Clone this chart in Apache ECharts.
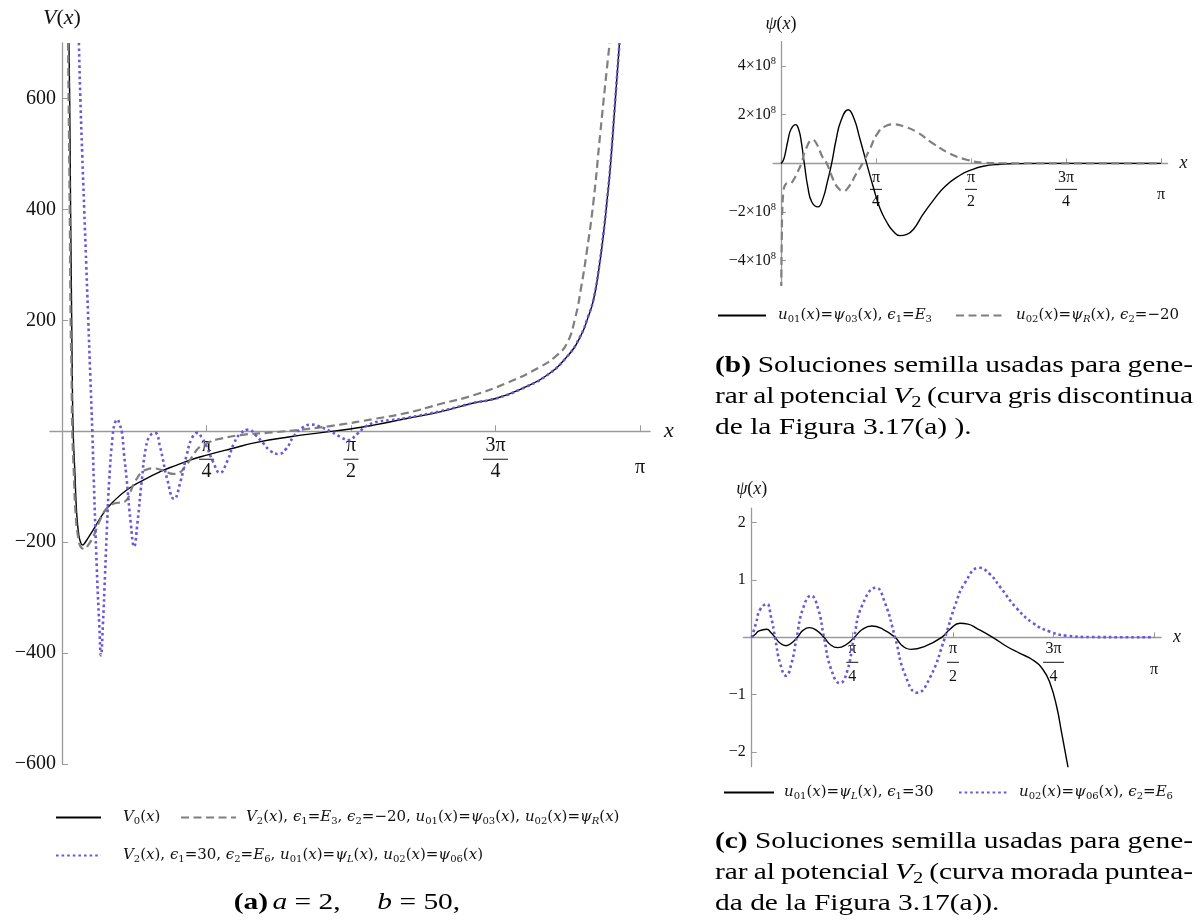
<!DOCTYPE html>
<html>
<head>
<meta charset="utf-8">
<script src="https://cdn.jsdelivr.net/npm/echarts@6/dist/echarts.min.js"></script>
<style>
html, body { margin: 0; padding: 0; background: #fff; }
#chart { width: 1197px; height: 922px; }
</style>
</head>
<body>
<div id="chart"></div>
<script>
const PI = Math.PI;

// ---- (a) potentials V(x): [x, V] ----
const v0Curve = [[0.038,700],[0.042,600],[0.047,400],[0.053,200],[0.056,100],[0.061,0],[0.071,-80],[0.080,-148],[0.092,-188],[0.103,-202],[0.113,-205],[0.125,-201],[0.147,-190],[0.170,-178],[0.225,-148],[0.279,-127],[0.352,-106],[0.442,-88],[0.533,-73],[0.624,-61],[0.714,-50],[0.787,-43],[0.914,-32],[1.059,-20],[1.240,-10],[1.421,-2],[1.566,4],[1.693,11],[1.874,23],[2.055,35],[2.237,51],[2.358,59],[2.508,78],[2.636,101],[2.744,134],[2.817,170],[2.862,208],[2.889,237],[2.915,285],[2.943,355],[2.964,420],[2.980,475],[3.007,595],[3.030,700]];

const v2DashedCurve = [[0.033,700],[0.036,600],[0.042,400],[0.047,200],[0.052,100],[0.056,0],[0.065,-80],[0.074,-148],[0.090,-195],[0.106,-210],[0.125,-212],[0.141,-206],[0.170,-190],[0.207,-160],[0.243,-139],[0.279,-131],[0.305,-129],[0.333,-128],[0.361,-119],[0.383,-100],[0.406,-86],[0.433,-74],[0.461,-69],[0.495,-67],[0.533,-69],[0.571,-74],[0.605,-77],[0.636,-75],[0.669,-64],[0.696,-52],[0.723,-38],[0.750,-28],[0.805,-19],[0.841,-15],[0.968,-7],[1.149,-2],[1.331,4],[1.512,12],[1.693,22],[1.874,33],[2.055,49],[2.237,65],[2.418,87],[2.599,116],[2.686,136],[2.744,158],[2.790,205],[2.822,260],[2.853,325],[2.889,415],[2.925,535],[2.962,655],[2.977,700]];

const v2DottedCurve = [[0.092,700],[0.100,600],[0.110,500],[0.121,400],[0.132,300],[0.143,200],[0.154,100],[0.165,0],[0.173,-88],[0.189,-244],[0.203,-350],[0.212,-404],[0.223,-345],[0.234,-260],[0.245,-170],[0.257,-88],[0.275,-10],[0.288,15],[0.301,21],[0.313,12],[0.325,0],[0.337,-40],[0.352,-88],[0.374,-166],[0.392,-208],[0.410,-166],[0.434,-88],[0.457,-28],[0.479,-8],[0.506,-3],[0.533,-28],[0.573,-88],[0.609,-122],[0.646,-88],[0.678,-43],[0.707,-12],[0.736,-3],[0.761,-12],[0.787,-28],[0.821,-55],[0.859,-75],[0.897,-55],[0.935,-22],[0.968,-5],[1.013,3],[1.055,-8],[1.095,-22],[1.131,-35],[1.176,-41],[1.218,-32],[1.258,-10],[1.305,6],[1.358,12],[1.403,8],[1.457,0],[1.512,-10],[1.557,-16],[1.604,-5],[1.648,8],[1.684,14],[1.729,18],[1.784,20],[1.874,24],[2.055,36],[2.237,51],[2.358,59],[2.508,78],[2.636,101],[2.744,134],[2.817,171],[2.862,209],[2.889,238],[2.915,287],[2.943,357],[2.964,422],[2.980,477],[3.007,597],[3.030,700]];

// ---- (b) seed solutions: [x, psi] ----
const psi03Curve = [[0,0],[0.017,0.10e8],[0.033,0.35e8],[0.058,0.95e8],[0.083,1.40e8],[0.122,1.59e8],[0.149,1.35e8],[0.169,0.85e8],[0.193,0],[0.223,-1.0e8],[0.256,-1.6e8],[0.306,-1.79e8],[0.347,-1.45e8],[0.384,-0.75e8],[0.419,0],[0.455,0.95e8],[0.496,1.75e8],[0.556,2.2e8],[0.603,1.85e8],[0.653,1.0e8],[0.708,0],[0.763,-0.97e8],[0.818,-1.85e8],[0.873,-2.4e8],[0.926,-2.78e8],[0.983,-2.97e8],[1.041,-2.92e8],[1.094,-2.72e8],[1.174,-2.1e8],[1.259,-1.52e8],[1.356,-0.95e8],[1.480,-0.49e8],[1.563,-0.29e8],[1.672,-0.12e8],[1.811,-0.04e8],[1.976,-0.01e8],[2.307,0],[PI,0]];

const psiRCurve = [[0.002,-5.2e8],[0.007,-3.0e8],[0.012,-1.8e8],[0.021,-1.15e8],[0.033,-0.9e8],[0.054,-0.82e8],[0.074,-0.83e8],[0.099,-0.72e8],[0.128,-0.45e8],[0.169,0],[0.207,0.6e8],[0.262,0.97e8],[0.306,0.7e8],[0.339,0.3e8],[0.378,0],[0.422,-0.55e8],[0.463,-0.95e8],[0.515,-1.14e8],[0.562,-0.95e8],[0.620,-0.45e8],[0.680,0.05e8],[0.736,0.6e8],[0.794,1.2e8],[0.860,1.52e8],[0.934,1.6e8],[1.025,1.5e8],[1.122,1.29e8],[1.259,0.81e8],[1.397,0.4e8],[1.535,0.15e8],[1.672,0.03e8],[1.811,0.005e8],[PI,0]];

// ---- (c) seed solutions: [x, psi] ----
const psiLCurve = [[0,0],[0.026,0.05],[0.057,0.11],[0.117,0.14],[0.151,0.08],[0.182,0],[0.221,-0.10],[0.268,-0.146],[0.311,-0.10],[0.356,0],[0.400,0.12],[0.450,0.168],[0.506,0.12],[0.564,0],[0.615,-0.13],[0.671,-0.18],[0.736,-0.13],[0.801,0],[0.865,0.14],[0.937,0.197],[1.025,0.14],[1.119,0],[1.177,-0.15],[1.241,-0.21],[1.360,-0.15],[1.483,0],[1.548,0.14],[1.626,0.244],[1.688,0.23],[1.756,0.157],[1.881,0],[1.991,-0.16],[2.094,-0.28],[2.198,-0.40],[2.276,-0.57],[2.329,-0.80],[2.381,-1.21],[2.420,-1.67],[2.459,-2.14],[2.485,-2.45]];

const psi06Curve = [[0,0],[0.034,0.25],[0.065,0.48],[0.117,0.58],[0.151,0.35],[0.182,0],[0.221,-0.45],[0.268,-0.67],[0.311,-0.45],[0.351,0],[0.400,0.5],[0.463,0.725],[0.518,0.5],[0.564,0],[0.619,-0.55],[0.689,-0.80],[0.744,-0.6],[0.799,0],[0.861,0.55],[0.970,0.864],[1.040,0.6],[1.119,0],[1.197,-0.65],[1.293,-0.965],[1.392,-0.7],[1.509,0],[1.587,0.55],[1.665,0.95],[1.777,1.21],[1.860,1.1],[1.938,0.88],[2.069,0.505],[2.198,0.244],[2.329,0.098],[2.459,0.028],[2.641,0.005],[PI,0]];

// ---- ticks ----
const piTicks = [PI / 4, PI / 2, 3 * PI / 4, PI];
const piTickLabels = ['π/4', 'π/2', '3π/4', 'π'];
const vTicks = [-600, -400, -200, 200, 400, 600];
const psiBTicks = [-4e8, -2e8, 2e8, 4e8];
const psiCTicks = [-2, -1, 1, 2];

const SERIF = "'Liberation Serif', 'DejaVu Serif', serif";
const LEG_SERIF = "'DejaVu Serif', 'Liberation Serif', serif";
const INK = '#111';
const AXIS = '#9a9a9a';
const W = 1197, H = 922;

const blackLine = { color: '#000', width: 1.4, type: 'solid' };
const grayDash = { color: '#7f7f7f', width: 2.2, type: [8, 4.5] };
const purpleDot = { color: '#6a58d6', width: 2.6, type: [2.6, 3] };

// plot boxes: left, right, top, bottom (px)
const boxes = [
  { left: 50, right: 547, top: 43, bottom: 158 },
  { left: 773.1, right: 29.4, top: 41.7, bottom: 637 },
  { left: 743.4, right: 35.9, top: 508.1, bottom: 155.5 }
];

// fraction-style labels for multiples of pi
function piLabel(v) {
  const k = piTicks.findIndex(t => Math.abs(t - v) < 1e-6);
  if (k < 0) return '';
  const s = piTickLabels[k];
  if (s.indexOf('/') < 0) return '{pi|' + s + '}';
  const [num, den] = s.split('/');
  return '{n|' + num + '}\n{' + (num.length > 1 ? 'barL' : 'barS') + '| }\n{d|' + den + '}';
}
function fracRich(size, barGap, piPad, shortW, longW) {
  return {
    n: { fontFamily: SERIF, fontSize: size, lineHeight: size, color: INK, align: 'center' },
    d: { fontFamily: SERIF, fontSize: size, lineHeight: size, color: INK, align: 'center' },
    barS: { width: shortW, height: 1, lineHeight: barGap, fontSize: 1, backgroundColor: INK, align: 'center' },
    barL: { width: longW, height: 1, lineHeight: barGap, fontSize: 1, backgroundColor: INK, align: 'center' },
    pi: { fontFamily: SERIF, fontSize: size, lineHeight: size, color: INK, padding: [piPad, 0, 0, 0] }
  };
}
const minus = v => (v < 0 ? '−' + (-v) : String(v));

const mathRich = size => ({
  i: { fontFamily: SERIF, fontStyle: 'italic', fontSize: size, color: INK },
  r: { fontFamily: SERIF, fontSize: size, color: INK }
});

function xAxisFor(gridIndex, size, barGap, piPad, shortW, longW, margin, nameSize, nameGap, tickLen) {
  return {
    type: 'value', gridIndex, min: -0.065, max: 3.196, position: 'bottom',
    name: 'x', nameLocation: 'end', nameGap,
    nameTextStyle: { fontFamily: SERIF, fontStyle: 'italic', fontSize: nameSize, color: INK, verticalAlign: 'middle' },
    axisLine: { onZero: false, lineStyle: { color: AXIS, width: 1.3 } },
    axisTick: { show: true, inside: true, length: tickLen, customValues: piTicks, lineStyle: { color: AXIS, width: 1 } },
    axisLabel: { customValues: piTicks, margin, formatter: piLabel, verticalAlign: 'top',
                 rich: fracRich(size, barGap, piPad, shortW, longW) },
    splitLine: { show: false }
  };
}

// legend text with subscripts
const LR = {
  r: { fontFamily: LEG_SERIF, fontSize: 15, lineHeight: 18, color: INK },
  i: { fontFamily: LEG_SERIF, fontSize: 15, lineHeight: 18, fontStyle: 'italic', color: INK },
  s: { fontFamily: LEG_SERIF, fontSize: 10, lineHeight: 11, verticalAlign: 'bottom', color: INK },
  si: { fontFamily: LEG_SERIF, fontSize: 10, lineHeight: 11, fontStyle: 'italic', verticalAlign: 'bottom', color: INK }
};
const I = t => '{i|' + t + '}', R = t => '{r|' + t + '}', S = t => '{s|' + t + '}', SI = t => '{si|' + t + '}';
const fx = R('(') + I('x') + R(')');
const legendText = {
  V0: I('V') + S('0') + fx,
  V2a: I('V') + S('2') + fx + R(', ') + I('ϵ') + S('1') + R('=') + I('E') + S('3') + R(', ') + I('ϵ') + S('2') + R('=−20, ') +
       I('u') + S('01') + fx + R('=') + I('ψ') + S('03') + fx + R(', ') + I('u') + S('02') + fx + R('=') + I('ψ') + SI('R') + fx,
  V2b: I('V') + S('2') + fx + R(', ') + I('ϵ') + S('1') + R('=30, ') + I('ϵ') + S('2') + R('=') + I('E') + S('6') + R(', ') +
       I('u') + S('01') + fx + R('=') + I('ψ') + SI('L') + fx + R(', ') + I('u') + S('02') + fx + R('=') + I('ψ') + S('06') + fx,
  b1: I('u') + S('01') + fx + R('=') + I('ψ') + S('03') + fx + R(', ') + I('ϵ') + S('1') + R('=') + I('E') + S('3'),
  b2: I('u') + S('02') + fx + R('=') + I('ψ') + SI('R') + fx + R(', ') + I('ϵ') + S('2') + R('=−20'),
  c1: I('u') + S('01') + fx + R('=') + I('ψ') + SI('L') + fx + R(', ') + I('ϵ') + S('1') + R('=30'),
  c2: I('u') + S('02') + fx + R('=') + I('ψ') + S('06') + fx + R(', ') + I('ϵ') + S('2') + R('=') + I('E') + S('6')
};
function legendAt(name, left, top, itemWidth, pad) {
  return {
    data: [name], left, top, padding: 0, itemWidth, itemHeight: 14, selectedMode: false,
    itemStyle: { opacity: 0 },
    formatter: n => legendText[n],
    textStyle: { rich: LR, padding: [0, 0, 0, pad] }
  };
}

function lineSeries(name, data, xi, style) {
  return {
    name, type: 'line', data, xAxisIndex: xi, yAxisIndex: xi,
    symbol: 'none', smooth: 0.5, clip: true,
    lineStyle: style, itemStyle: { color: style.color }, z: 3
  };
}

const chart = echarts.init(document.getElementById('chart'), null, { renderer: 'canvas' });

chart.setOption({
  animation: false,
  backgroundColor: '#fff',
  grid: boxes.map(b => Object.assign({ outerBoundsMode: 'none' }, b)),
  xAxis: [
    xAxisFor(0, 20, 6, 43, 15, 25, 5, 22, 14, 6),
    xAxisFor(1, 16, 8, 34, 12, 22, 6, 18, 12, 5),
    xAxisFor(2, 16, 12, 42, 12, 21, 3, 18, 12, 5)
  ],
  yAxis: [
    {
      type: 'value', gridIndex: 0, min: -600, max: 700, position: 'left',
      name: '{i|V}{r|(}{i|x}{r|)}', nameLocation: 'end', nameGap: 14,
      nameTextStyle: { rich: mathRich(22) },
      axisLine: { onZero: false, lineStyle: { color: AXIS, width: 1.3 } },
      axisTick: { inside: true, length: 6, customValues: vTicks, lineStyle: { color: AXIS, width: 1 } },
      axisLabel: { customValues: vTicks, margin: 6, formatter: minus, fontFamily: SERIF, fontSize: 20, color: INK },
      splitLine: { show: false }
    },
    {
      type: 'value', gridIndex: 1, min: -5e8, max: 5e8, position: 'left',
      name: '{i|ψ}{r|(}{i|x}{r|)}', nameLocation: 'end', nameGap: 8,
      nameTextStyle: { rich: mathRich(18) },
      axisLine: { onZero: false, lineStyle: { color: AXIS, width: 1.3 } },
      axisTick: { inside: true, length: 5, customValues: psiBTicks, lineStyle: { color: AXIS, width: 1 } },
      axisLabel: {
        customValues: psiBTicks, margin: 5,
        formatter: v => { const m = Math.round(v / 1e8); return '{m|' + minus(m) + '×10}{e|8}'; },
        rich: {
          m: { fontFamily: SERIF, fontSize: 16, lineHeight: 20, color: INK },
          e: { fontFamily: SERIF, fontSize: 10.5, lineHeight: 11, verticalAlign: 'top', color: INK }
        }
      },
      splitLine: { show: false }
    },
    {
      type: 'value', gridIndex: 2, min: -2.25, max: 2.25, position: 'left',
      name: '{i|ψ}{r|(}{i|x}{r|)}', nameLocation: 'end', nameGap: 10,
      nameTextStyle: { rich: mathRich(18) },
      axisLine: { onZero: false, lineStyle: { color: AXIS, width: 1.3 } },
      axisTick: { inside: true, length: 5, customValues: psiCTicks, lineStyle: { color: AXIS, width: 1 } },
      axisLabel: { customValues: psiCTicks, margin: 6, formatter: minus, fontFamily: SERIF, fontSize: 16, color: INK },
      splitLine: { show: false }
    }
  ],
  legend: [
    legendAt('V0', 55, 810, 45, 17),
    legendAt('V2a', 180, 810, 55, 5),
    legendAt('V2b', 55, 848, 45, 17),
    legendAt('b1', 717, 308, 48, 7),
    legendAt('b2', 955, 308, 50, 5),
    legendAt('c1', 723, 785, 50, 5),
    legendAt('c2', 958, 785, 50, 5)
  ],
  series: [
    lineSeries('V0', v0Curve, 0, blackLine),
    lineSeries('V2a', v2DashedCurve, 0, grayDash),
    lineSeries('V2b', v2DottedCurve, 0, purpleDot),
    lineSeries('b1', psi03Curve, 1, blackLine),
    lineSeries('b2', psiRCurve, 1, grayDash),
    lineSeries('c1', psiLCurve, 2, blackLine),
    lineSeries('c2', psi06Curve, 2, purpleDot)
  ]
});

// move each pair of axes so they cross at the origin (labels and ticks follow)
const origins = boxes.map((b, k) => chart.convertToPixel({ gridIndex: k }, [0, 0]));
chart.setOption({
  xAxis: boxes.map((b, k) => ({ offset: origins[k][1] - (H - b.bottom) })),
  yAxis: boxes.map((b, k) => ({ offset: b.left - origins[k][0] }))
});

// ---- captions (justified like the typeset text) ----
const measureCtx = document.createElement('canvas').getContext('2d');
const CAP = 23, CAP_SX = 1.28;
const capFonts = {
  r: { size: CAP }, b: { size: CAP, weight: 'bold' }, i: { size: CAP, style: 'italic' },
  s: { size: 16 }, l: { size: CAP }
};
const capRich = {
  r: { fontFamily: SERIF, fontSize: CAP, lineHeight: 28, color: INK },
  b: { fontFamily: SERIF, fontSize: CAP, lineHeight: 28, fontWeight: 'bold', color: INK },
  i: { fontFamily: SERIF, fontSize: CAP, lineHeight: 28, fontStyle: 'italic', color: INK },
  s: { fontFamily: SERIF, fontSize: 16, lineHeight: 17, verticalAlign: 'bottom', color: INK },
  l: { fontFamily: SERIF, fontSize: CAP, lineHeight: 28, color: '#2323f0' }
};
function measure(t, f) {
  measureCtx.font = (f.style || 'normal') + ' normal ' + (f.weight || 'normal') + ' ' + f.size + 'px ' + SERIF;
  return measureCtx.measureText(t).width * CAP_SX;
}
const wordWidth = w => w.reduce((a, [st, t]) => a + measure(t, capFonts[st]), 0);
const wordText = w => w.map(([st, t]) => '{' + st + '|' + t + '}').join('');
function captionLine(words, x0, x1, y, justify) {
  const widths = words.map(wordWidth);
  const total = widths.reduce((a, b) => a + b, 0);
  const gap = justify ? (x1 - x0 - total) / (words.length - 1) : measure(' ', capFonts.r);
  let x = x0;
  return words.map((w, k) => {
    const el = { type: 'text', x, y, scaleX: CAP_SX, silent: true,
      style: { text: wordText(w), rich: capRich, align: 'left', verticalAlign: 'middle' } };
    x += widths[k] + gap;
    return el;
  });
}
const wr = t => [['r', t]];
const X0 = 715, X1 = 1193;
const captionB = [
  [[['b', '(b)']], wr('Soluciones'), wr('semilla'), wr('usadas'), wr('para'), wr('gene-')],
  [wr('rar'), wr('al'), wr('potencial'), [['i', 'V'], ['s', '2']], wr('(curva'), wr('gris'), wr('discontinua')],
  [wr('de'), wr('la'), wr('Figura'), [['l', '3.17(a)']], wr(').')]
];
const captionC = [
  [[['b', '(c)']], wr('Soluciones'), wr('semilla'), wr('usadas'), wr('para'), wr('gene-')],
  [wr('rar'), wr('al'), wr('potencial'), [['i', 'V'], ['s', '2']], wr('(curva'), wr('morada'), wr('puntea-')],
  [wr('da'), wr('de'), wr('la'), wr('Figura'), [['l', '3.17(a)'], ['r', ').']]]
];
const graphics = [];
[366, 397, 428].forEach((y, k) => graphics.push(...captionLine(captionB[k], X0, X1, y, k < 2)));
[842, 873, 904].forEach((y, k) => graphics.push(...captionLine(captionC[k], X0, X1, y, k < 2)));
graphics.push({
  type: 'text', x: 347, y: 903, scaleX: CAP_SX, silent: true,
  style: { text: '{b|(a)} {i|a}{r| = 2,     }{i|b}{r| = 50,}', rich: capRich, align: 'center', verticalAlign: 'middle' }
});
chart.setOption({ graphic: graphics });
</script>
</body>
</html>
